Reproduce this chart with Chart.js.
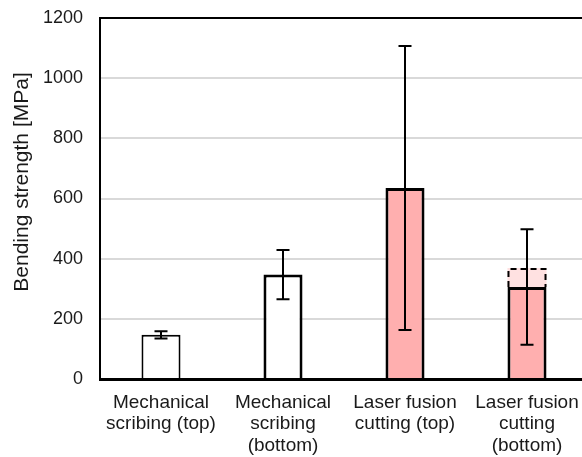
<!DOCTYPE html>
<html>
<head>
<meta charset="utf-8">
<script src="https://cdn.jsdelivr.net/npm/chart.js@4/dist/chart.umd.min.js"></script>
<style>
  html, body { margin: 0; padding: 0; background: #fff; overflow: hidden; }
  #wrap { width: 600px; height: 457px; }
</style>
</head>
<body>
<div id="wrap"><canvas id="chart"></canvas></div>
<script>
// valores
const categories = [
  ["Mechanical", "scribing (top)"],
  ["Mechanical", "scribing", "(bottom)"],
  ["Laser fusion", "cutting (top)"],
  ["Laser fusion", "cutting", "(bottom)"]
];
const meanStrength = [147, 347, 635, 306];
const errStrength = [12, 82, 472, 192];
const dashedTop = [null, null, null, 369];
const yTicks = [0, 200, 400, 600, 800, 1000, 1200];
const yTitle = "Bending strength [MPa]";

const barFill = ["#ffffff", "#ffffff", "#ffafaf", "#ffafaf"];
const barBorder = [2, 3, 3, 3];

// barras de erro, contorno tracejado e título do eixo y
const extrasPlugin = {
  id: "extras",
  afterDatasetsDraw(chart) {
    const ctx = chart.ctx;
    const y = chart.scales.y;
    const dashMeta = chart.getDatasetMeta(1);
    ctx.save();
    ctx.strokeStyle = "#000";
    ctx.lineWidth = 2;
    dashMeta.data.forEach((bar, i) => {
      if (dashedTop[i] == null) return;
      const half = bar.width / 2 - 1;
      const top = bar.y + 1;
      ctx.setLineDash([6, 4]);
      ctx.beginPath();
      ctx.moveTo(bar.x - half, bar.base);
      ctx.lineTo(bar.x - half, top);
      ctx.lineTo(bar.x + half, top);
      ctx.lineTo(bar.x + half, bar.base);
      ctx.stroke();
    });
    ctx.setLineDash([]);
    const meta = chart.getDatasetMeta(0);
    meta.data.forEach((bar, i) => {
      const hi = y.getPixelForValue(meanStrength[i] + errStrength[i]);
      const lo = y.getPixelForValue(meanStrength[i] - errStrength[i]);
      const cap = 6.5;
      ctx.beginPath();
      ctx.moveTo(bar.x, hi); ctx.lineTo(bar.x, lo);
      ctx.moveTo(bar.x - cap, hi); ctx.lineTo(bar.x + cap, hi);
      ctx.moveTo(bar.x - cap, lo); ctx.lineTo(bar.x + cap, lo);
      ctx.stroke();
    });
    ctx.restore();
  },
  afterDraw(chart) {
    // título um pouco acima do centro, como no original
    const ctx = chart.ctx;
    ctx.save();
    ctx.translate(28, 182);
    ctx.rotate(-Math.PI / 2);
    ctx.font = "21px 'Liberation Sans', Arial";
    ctx.fillStyle = "#1a1a1a";
    ctx.textAlign = "center";
    ctx.textBaseline = "alphabetic";
    ctx.fillText(yTitle, 0, 0);
    ctx.restore();
  }
};

new Chart(document.getElementById("chart"), {
  type: "bar",
  data: {
    labels: categories,
    datasets: [
      {
        data: meanStrength,
        backgroundColor: barFill,
        borderColor: "#000",
        borderWidth: barBorder,
        categoryPercentage: 1,
        barPercentage: 0.32,
        order: 1
      },
      {
        data: dashedTop.map((v, i) => (v == null ? null : [meanStrength[i], v])),
        backgroundColor: "#ffe1e1",
        borderWidth: 0,
        categoryPercentage: 1,
        barPercentage: 0.32,
        order: 2
      }
    ]
  },
  options: {
    responsive: true,
    maintainAspectRatio: false,
    animation: false,
    layout: { padding: { left: 0, top: 18, right: 12, bottom: 0 } },
    plugins: { legend: { display: false }, tooltip: { enabled: false } },
    scales: {
      x: {
        stacked: true,
        grid: { display: false },
        border: { display: true, color: "#000", width: 3 },
        ticks: {
          color: "#1a1a1a",
          padding: 5,
          font: { family: "Liberation Sans, Arial", size: 19, lineHeight: 1.13 },
          maxRotation: 0,
          autoSkip: false
        },
        afterFit(scale) { scale.height = 78; }
      },
      y: {
        min: 0,
        max: 1200,
        afterBuildTicks(scale) { scale.ticks = yTicks.map((v) => ({ value: v })); },
        grid: {
          drawTicks: false,
          lineWidth: 2,
          color: (c) => (c.tick && c.tick.value === 1200 ? "#000" : "#d9d9d9")
        },
        border: { display: true, color: "#000", width: 2 },
        ticks: {
          color: "#1a1a1a",
          padding: 17,
          font: { family: "Liberation Sans, Arial", size: 18 },
          callback: (v) => String(v)
        },
        afterFit(scale) {
          scale.width = 100;
          scale.paddingTop = 0;
          scale.paddingBottom = 0;
        }
      }
    }
  },
  plugins: [extrasPlugin]
});
</script>
</body>
</html>
